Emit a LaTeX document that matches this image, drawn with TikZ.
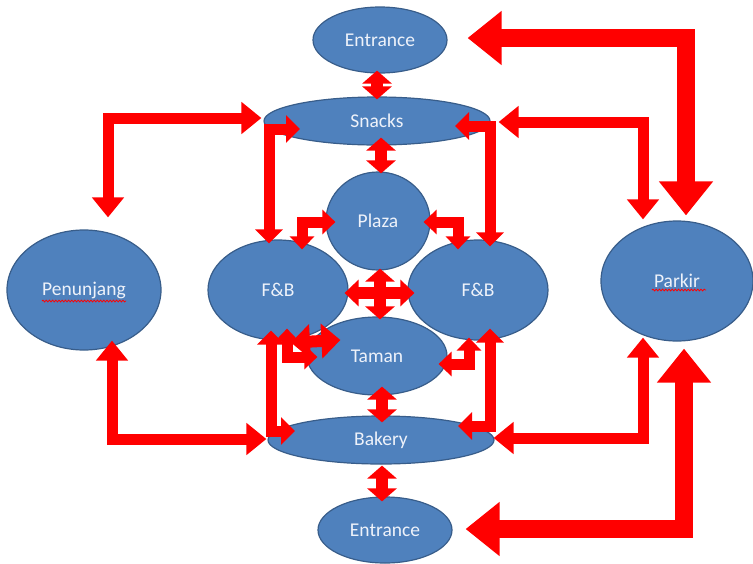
\documentclass[tikz,border=0pt]{standalone}
\usepackage{fontspec}
\setmainfont{Carlito}
\usetikzlibrary{arrows.meta,shapes.geometric,calc,decorations.pathmorphing}
\definecolor{nodefill}{RGB}{79,129,189}
\definecolor{nodeedge}{RGB}{56,93,138}
\definecolor{nodetext}{RGB}{238,242,250}
\definecolor{arrowred}{RGB}{255,0,0}
\tikzset{
  place/.style={ellipse, draw=nodeedge, fill=nodefill, line width=1.2pt, inner sep=0pt,
    text=nodetext, font=\fontsize{19.5}{23}\selectfont},
  redarrow/.style={draw=arrowred, line cap=butt, line join=miter, miter limit=10},
  sarr/.style={redarrow, line width=11pt,
    arrows={Triangle[width=31pt,length=20pt]-Triangle[width=31pt,length=20pt]}},
  marr/.style={redarrow, line width=11pt,
    arrows={Triangle[width=27pt,length=14pt]-Triangle[width=27pt,length=14pt]}},
  tarr/.style={redarrow, line width=11pt,
    arrows={Triangle[width=24pt,length=13pt]-Triangle[width=24pt,length=13pt]}},
  barr/.style={redarrow, line width=18pt,
    arrows={Triangle[width=52pt,length=34pt]-Triangle[width=52pt,length=34pt]}},
  varr/.style={redarrow, line width=12pt,
    arrows={Triangle[width=29pt,length=13pt]-Triangle[width=29pt,length=13pt]}},
  crossarr/.style={redarrow, line width=12pt,
    arrows={Triangle[width=26pt,length=14pt]-Triangle[width=26pt,length=14pt]}},
  blobarr/.style={redarrow, line width=12pt,
    arrows={Triangle[width=34pt,length=19pt]-Triangle[width=34pt,length=19pt]}},
  spell/.style={draw=arrowred, line width=0.8pt, decorate,
    decoration={snake, amplitude=0.9pt, segment length=3.2pt}}
}
\begin{document}
\begin{tikzpicture}[x=1pt,y=-1pt]
\useasboundingbox (0,0) rectangle (753,563);

% places
\node[place, minimum width=134pt, minimum height=66pt] (ent1) at (380,40) {Entrance};
\node[place, minimum width=226pt, minimum height=48pt] (snacks) at (377,121) {Snacks};
\node[place, minimum width=104pt, minimum height=98pt] (plaza) at (378,221) {Plaza};
\node[place, minimum width=140pt, minimum height=100pt] (fbl) at (278,290) {F\&B};
\node[place, minimum width=140pt, minimum height=100pt] (fbr) at (478,290) {F\&B};
\node[place, minimum width=140pt, minimum height=78pt] (taman) at (377,356) {Taman};
\node[place, minimum width=226pt, minimum height=48pt] (bakery) at (381,440) {Bakery};
\node[place, minimum width=134pt, minimum height=66pt] (ent2) at (385,530) {Entrance};
\node[place, minimum width=154pt, minimum height=120pt] (pen) at (84,290) {Penunjang};
\node[place, minimum width=152pt, minimum height=120pt] (parkir) at (677,281) {Parkir};

% spell-check underlines
\draw[spell] ([shift={(-42,11)}]pen.center) -- ([shift={(42,11)}]pen.center);
\draw[spell] ([shift={(-25,9)}]parkir.center) -- ([shift={(29,9)}]parkir.center);

% left loops
\draw[sarr] ([shift={(24,-12)}]pen.north) |- ([shift={(-2,-3)}]snacks.west);
\draw[sarr] ([shift={(28,-10)}]pen.south) |- ([shift={(-1,-1)}]bakery.west);

% Snacks - F&B
\draw[marr] ([shift={(-9,4)}]fbl.north) |- ([shift={(-77,8)}]snacks.center);
\draw[marr] ([shift={(12,7)}]fbr.north) |- ([shift={(78,5)}]snacks.center);

% Bakery - F&B
\draw[marr] ([shift={(-7,-10)}]fbl.south) |- ([shift={(-86,-9)}]bakery.center);
\draw[marr] ([shift={(12,-12)}]fbr.south) |- ([shift={(77,-14)}]bakery.center);

% Plaza - F&B
\draw[tarr] ([shift={(24,10)}]fbl.north) |- ([shift={(10,1)}]plaza.west);
\draw[tarr] ([shift={(-20,10)}]fbr.north) |- ([shift={(-7,1)}]plaza.east);

% Taman - F&B
\draw[tarr] ([shift={(-9,-3)}]fbr.south) |- ([shift={(-9,8)}]taman.east);
\draw[tarr] ([shift={(9,-12)}]fbl.south) |- ([shift={(11,1)}]taman.west);
\draw[blobarr] ([shift={(13,2)}]fbl.south) -- ([shift={(34,-16)}]taman.west);

% Parkir connections
\draw[sarr] ([shift={(-34,-1)}]parkir.north) |- ([shift={(8,1)}]snacks.east);
\draw[sarr] ([shift={(-34,-4)}]parkir.south) |- ([shift={(-1,-2)}]bakery.east);
\draw[barr] ([shift={(9,-5)}]parkir.north) |- ([shift={(20,-2)}]ent1.east);
\draw[barr] ([shift={(7,7)}]parkir.south) |- ([shift={(13,-1)}]ent2.east);

% vertical doubles
\draw[varr] ([shift={(-3,-3)}]ent1.south) -- ([shift={(0,3)}]snacks.north);
\draw[varr] ([shift={(4,-8)}]snacks.south) -- ([shift={(3,2)}]plaza.north);
\draw[varr] ([shift={(5,-9)}]taman.south) -- ([shift={(1,7)}]bakery.north);
\draw[varr] ([shift={(1,1)}]bakery.south) -- ([shift={(-3,5)}]ent2.north);

% central cross
\draw[crossarr] ([shift={(-4,3)}]fbl.east) -- ([shift={(7,3)}]fbr.west);
\draw[varr] ([shift={(2,-2)}]plaza.south) -- ([shift={(3,3)}]taman.north);
\end{tikzpicture}
\end{document}
